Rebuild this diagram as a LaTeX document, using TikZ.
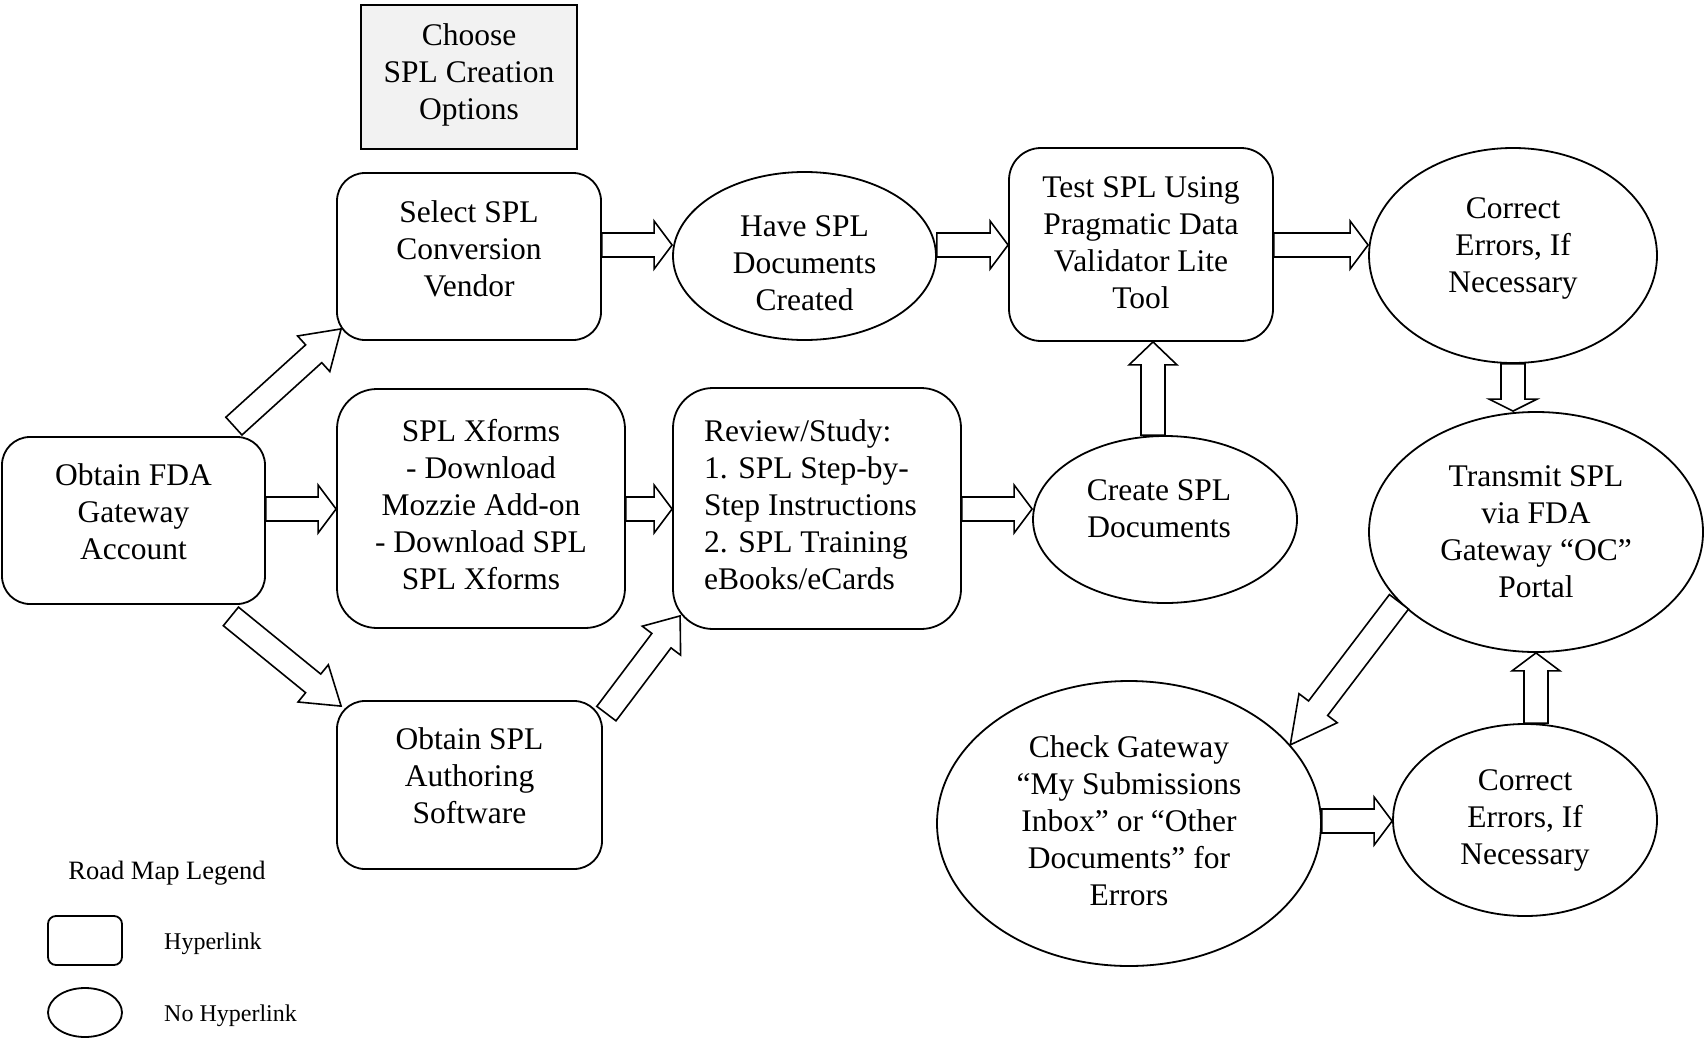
\documentclass[tikz,border=0pt]{standalone}
\usepackage{fontspec}
\setmainfont{Liberation Serif}
\usetikzlibrary{calc, shapes.geometric}

% block arrow from #2 (tail) to #3 (tip), head length #1
\newcommand{\fatarrow}[3][18]{%
  \coordinate (fh) at ($(#3)!#1pt!(#2)$);
  \draw[fat] ($(#2)!12pt!90:(#3)$) -- ($(fh)!12pt!90:(#3)$) -- ($(fh)!24pt!90:(#3)$) -- (#3)
    -- ($(fh)!24pt!-90:(#3)$) -- ($(fh)!12pt!-90:(#3)$) -- ($(#2)!12pt!-90:(#3)$) -- cycle;}

\begin{document}
\begin{tikzpicture}[x=1pt, y=-1pt,
  hbox/.style={draw, line width=1.8pt, rounded corners=#1pt, inner sep=0pt},
  hbox/.default=28,
  nohl/.style={draw, ellipse, line width=1.8pt, inner sep=0pt},
  txt/.style={font=\fontsize{31.5}{37}\selectfont, align=center, inner sep=0pt},
  small/.style={font=\fontsize{24}{29}\selectfont, inner sep=0pt},
  fat/.style={draw, fill=white, line width=1.6pt, line join=miter}]
\useasboundingbox (0,0) rectangle (1704,1041);

% shapes
\node[draw, line width=1.8pt, fill=black!5, minimum width=216pt, minimum height=144pt] (chs) at (469,77) {};
\node[hbox, minimum width=263pt, minimum height=167pt] (obt) at (133.5,520.5) {};
\node[hbox, minimum width=264pt, minimum height=167pt] (sel) at (469,256.5) {};
\node[hbox=40, minimum width=288pt, minimum height=239pt] (xf) at (481,508.5) {};
\node[hbox, minimum width=265pt, minimum height=168pt] (aut) at (469.5,785) {};
\node[hbox=40, minimum width=288pt, minimum height=241pt] (rev) at (817,508.5) {};
\node[hbox=32, minimum width=264pt, minimum height=193pt] (test) at (1141,244.5) {};
\node[nohl, minimum width=263pt, minimum height=168pt] (have) at (804.5,256) {};
\node[nohl, minimum width=264pt, minimum height=167pt] (cre) at (1165,519.5) {};
\node[nohl, minimum width=288pt, minimum height=215pt] (cor1) at (1513,255.5) {};
\node[nohl, minimum width=334pt, minimum height=240pt] (tr) at (1536,532) {};
\node[nohl, minimum width=384pt, minimum height=285pt] (chk) at (1129,823.5) {};
\node[nohl, minimum width=264pt, minimum height=192pt] (cor2) at (1525,820) {};

% texts
\node[txt] (chsT) at ([yshift=2.5pt]chs.center) {Choose\\SPL Creation\\Options};
\node[txt] (obtT) at ([yshift=8.5pt]obt.center) {Obtain FDA\\Gateway\\Account};
\node[txt] (selT) at ([yshift=8pt]sel.center) {Select SPL\\Conversion\\Vendor};
\node[txt] (xfT) at ([yshift=4pt]xf.center) {SPL Xforms\\- Download\\Mozzie Add-on\\- Download SPL\\SPL Xforms};
\node[txt] (autT) at ([yshift=9pt]aut.center) {Obtain SPL\\Authoring\\Software};
\node[txt, align=left, anchor=west] (revT) at ([yshift=3.5pt]rev.center -| 704,0) {Review/Study:\\1. SPL Step-by-\\Step Instructions\\2. SPL Training\\eBooks/eCards};
\node[txt] (testT) at ([yshift=1.5pt]test.center) {Test SPL Using\\Pragmatic Data\\Validator Lite\\Tool};
\node[txt] (haveT) at ([yshift=-7pt]have.center) {Have SPL\\Documents\\Created};
\node[txt] (creT) at ([xshift=-6pt, yshift=11pt]cre.center) {Create SPL\\Documents};
\node[txt] (cor1T) at ([yshift=7pt]cor1.center) {Correct\\Errors, If\\Necessary};
\node[txt] (trT) at ([yshift=0pt]tr.center) {Transmit SPL\\via FDA\\Gateway “OC”\\Portal};
\node[txt] (chkT) at ([yshift=2.5pt]chk.center) {Check Gateway\\“My Submissions\\Inbox” or “Other\\Documents” for\\Errors};
\node[txt] (cor2T) at ([yshift=0pt]cor2.center) {Correct\\Errors, If\\Necessary};

% arrows
\coordinate (r1) at (0,245);
\coordinate (r2) at (0,509);
\coordinate (r3) at (0,821);
\fatarrow{sel.east |- r1}{have.west |- r1}
\fatarrow{have.east |- r1}{test.west |- r1}
\fatarrow{test.east |- r1}{cor1.west |- r1}
\fatarrow{obt.east |- r2}{xf.west |- r2}
\fatarrow{xf.east |- r2}{rev.west |- r2}
\fatarrow{rev.east |- r2}{cre.west |- r2}
\fatarrow{chk.east |- r3}{cor2.west |- r3}
\coordinate (d1a) at ([shift={(-32,-10)}]obt.north east);
\coordinate (d1b) at ([shift={(5,-12)}]sel.south west);
\coordinate (d2a) at ([shift={(-35,11.5)}]obt.south east);
\coordinate (d2b) at ([shift={(5,6)}]aut.north west);
\coordinate (d3a) at ([shift={(3.5,13.5)}]aut.north east);
\coordinate (d3b) at ([shift={(8,-14)}]rev.south west);
\fatarrow[37]{d1a}{d1b}
\fatarrow[36]{d2a}{d2b}
\fatarrow[31]{d3a}{d3b}
\fatarrow[46]{tr.207}{chk.26}
\coordinate (u1b) at ([xshift=12pt]test.south);
\coordinate (u1a) at (u1b |- cre.north);
\fatarrow[23]{u1a}{u1b}
\coordinate (u2b) at (cor1.south |- tr.north);
\fatarrow[12]{cor1.south}{u2b}
\coordinate (u3a) at (tr.south |- cor2.north);
\fatarrow{u3a}{tr.south}

% legend
\node[small, font=\fontsize{26.5}{31}\selectfont, anchor=base] (legT) at (167,879) {Road Map Legend};
\node[hbox=8, minimum width=74pt, minimum height=49pt] (legbox) at (85,940.5) {};
\node[small, anchor=base west] (legboxT) at (164,949) {Hyperlink};
\node[nohl, minimum width=74pt, minimum height=49pt] (legell) at (85,1012.5) {};
\node[small, anchor=base west] (legellT) at (164,1021) {No Hyperlink};
\end{tikzpicture}
\end{document}
